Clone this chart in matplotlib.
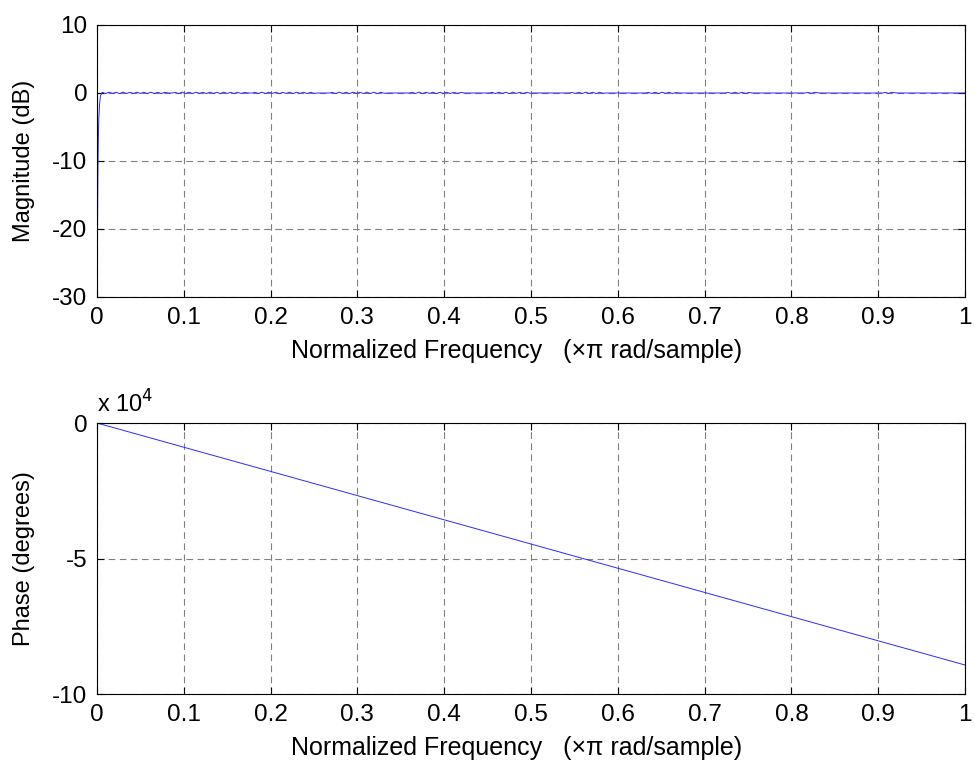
import matplotlib
matplotlib.use("Agg")
import matplotlib.pyplot as plt

plt.rcParams['font.family'] = ['Liberation Sans', 'DejaVu Sans']
plt.rcParams['axes.unicode_minus'] = False

# magnitude response (normalized freq, dB)
mag_freq = [0.0, 0.0005, 0.001, 0.0015, 0.002, 0.003, 0.004,
            0.006, 0.010, 0.014, 0.018, 0.022, 0.026, 0.030, 0.034, 0.038, 0.042,
            0.046, 0.050, 0.054, 0.058, 0.062, 0.066, 0.070, 0.074, 0.078,
            0.082, 0.087,
            0.090, 0.094, 0.098, 0.102, 0.106, 0.110, 0.114, 0.118, 0.122, 0.126,
            0.130, 0.134, 0.138, 0.142, 0.146, 0.150, 0.154, 0.158, 0.162, 0.166, 0.170,
            0.174, 0.179,
            0.182, 0.186, 0.190, 0.194, 0.198, 0.202, 0.206, 0.210, 0.214, 0.218,
            0.222, 0.226, 0.230, 0.234, 0.238, 0.242, 0.246, 0.250,
            0.255, 0.268,
            0.271, 0.275, 0.279, 0.283, 0.287, 0.291, 0.295, 0.299, 0.303, 0.307,
            0.311, 0.315, 0.319, 0.323, 0.327, 0.331,
            0.335, 0.360,
            0.363, 0.367, 0.371, 0.375, 0.379, 0.383, 0.387, 0.391, 0.395, 0.399,
            0.403, 0.407, 0.411, 0.415, 0.419,
            0.423, 0.452,
            0.455, 0.459, 0.463, 0.467, 0.471, 0.475, 0.479, 0.483, 0.487, 0.491,
            0.495, 0.499,
            0.503, 0.544,
            0.547, 0.551, 0.555, 0.559, 0.563, 0.567, 0.571, 0.575, 0.579, 0.583,
            0.587, 0.632,
            0.635, 0.639, 0.643, 0.647, 0.651, 0.655, 0.659, 0.663, 0.667,
            0.671, 0.724,
            0.727, 0.731, 0.735, 0.739, 0.743, 0.747, 0.751,
            0.755, 0.816,
            0.819, 0.823, 0.827, 0.831,
            0.835, 0.905,
            0.908, 0.912, 0.916, 0.920,
            0.924, 1.0]
mag_db = [-40.0, -22.0, -12.0, -7.0, -4.0, -1.5, -0.4,
          0.10, -0.08, 0.12, -0.06, 0.11, -0.09, 0.12, -0.07, 0.10, -0.08,
          0.12, -0.06, 0.11, -0.09, 0.12, -0.07, 0.10, -0.08, 0.09,
          0.0, 0.0,
          0.10, -0.08, 0.12, -0.07, 0.11, -0.09, 0.12, -0.06, 0.10, -0.08,
          0.12, -0.07, 0.11, -0.09, 0.12, -0.06, 0.10, -0.08, 0.11, -0.07, 0.08,
          0.0, 0.0,
          0.10, -0.07, 0.12, -0.08, 0.11, -0.06, 0.12, -0.09, 0.10, -0.07,
          0.12, -0.08, 0.11, -0.06, 0.12, -0.09, 0.10, -0.05,
          0.0, 0.0,
          0.10, -0.08, 0.12, -0.07, 0.11, -0.09, 0.12, -0.06, 0.10, -0.08,
          0.12, -0.07, 0.11, -0.09, 0.10, -0.05,
          0.0, 0.0,
          0.10, -0.07, 0.12, -0.08, 0.11, -0.06, 0.12, -0.09, 0.10, -0.07,
          0.12, -0.08, 0.11, -0.06, 0.08,
          0.0, 0.0,
          0.10, -0.08, 0.12, -0.07, 0.11, -0.09, 0.12, -0.06, 0.10, -0.08,
          0.11, -0.05,
          0.0, 0.0,
          0.09, -0.07, 0.11, -0.08, 0.12, -0.06, 0.11, -0.08, 0.10, -0.04,
          0.0, 0.0,
          0.09, -0.07, 0.11, -0.08, 0.12, -0.06, 0.11, -0.07, 0.06,
          0.0, 0.0,
          0.09, -0.06, 0.11, -0.07, 0.11, -0.06, 0.07,
          0.0, 0.0,
          0.09, -0.05, 0.10, 0.02,
          0.0, 0.0,
          0.09, -0.05, 0.10, 0.02,
          0.0, 0.0]

# phase response (degrees)
phase_freq = [0.0, 0.1, 0.2, 0.3, 0.4, 0.5, 0.6, 0.7, 0.8, 0.9, 1.0]
phase_deg = [0, -8930, -17860, -26790, -35720, -44650, -53580, -62510,
             -71440, -80370, -89300]

freq_ticks = [0, 0.1, 0.2, 0.3, 0.4, 0.5, 0.6, 0.7, 0.8, 0.9, 1]
freq_labels = ['0', '0.1', '0.2', '0.3', '0.4', '0.5', '0.6', '0.7', '0.8', '0.9', '1']
xlab = 'Normalized Frequency   (\u00d7\u03c0 rad/sample)'

fig = plt.figure(figsize=(9.75, 7.69), dpi=100)
ax1 = fig.add_axes([0.0995, 0.6138, 0.8903, 0.3537])
ax2 = fig.add_axes([0.0995, 0.0975, 0.8903, 0.3524])


def style(ax):
    ax.set_xlim(0, 1)
    ax.set_xticks(freq_ticks)
    ax.set_xticklabels(freq_labels)
    ax.grid(True, color='#808080', linestyle=(0, (6, 4)), linewidth=0.8)
    ax.tick_params(direction='in', length=5, width=0.8, labelsize=17.5,
                   top=True, right=True, pad=7, colors='black')
    for s in ax.spines.values():
        s.set_linewidth(0.8)
    ax.set_xlabel(xlab, fontsize=18)
    ax.xaxis.set_label_coords(0.483, -0.155, transform=ax.transAxes)


ax1.plot(mag_freq, mag_db, color='#2a2aff', linewidth=0.7)
ax1.set_ylim(-30, 10)
ax1.set_yticks([-30, -20, -10, 0, 10])
ax1.set_ylabel('Magnitude (dB)', fontsize=17, labelpad=12)
style(ax1)

ax2.plot(phase_freq, [p / 1e4 for p in phase_deg], color='#2a2aff', linewidth=0.7)
ax2.set_ylim(-10, 0)
ax2.set_yticks([-10, -5, 0])
ax2.set_ylabel('Phase (degrees)', fontsize=17, labelpad=12)
ax2.text(0.0, 1.02, r'x 10$^4$', transform=ax2.transAxes, fontsize=17,
         ha='left', va='bottom')
style(ax2)

fig.savefig('out.png', dpi=100)
